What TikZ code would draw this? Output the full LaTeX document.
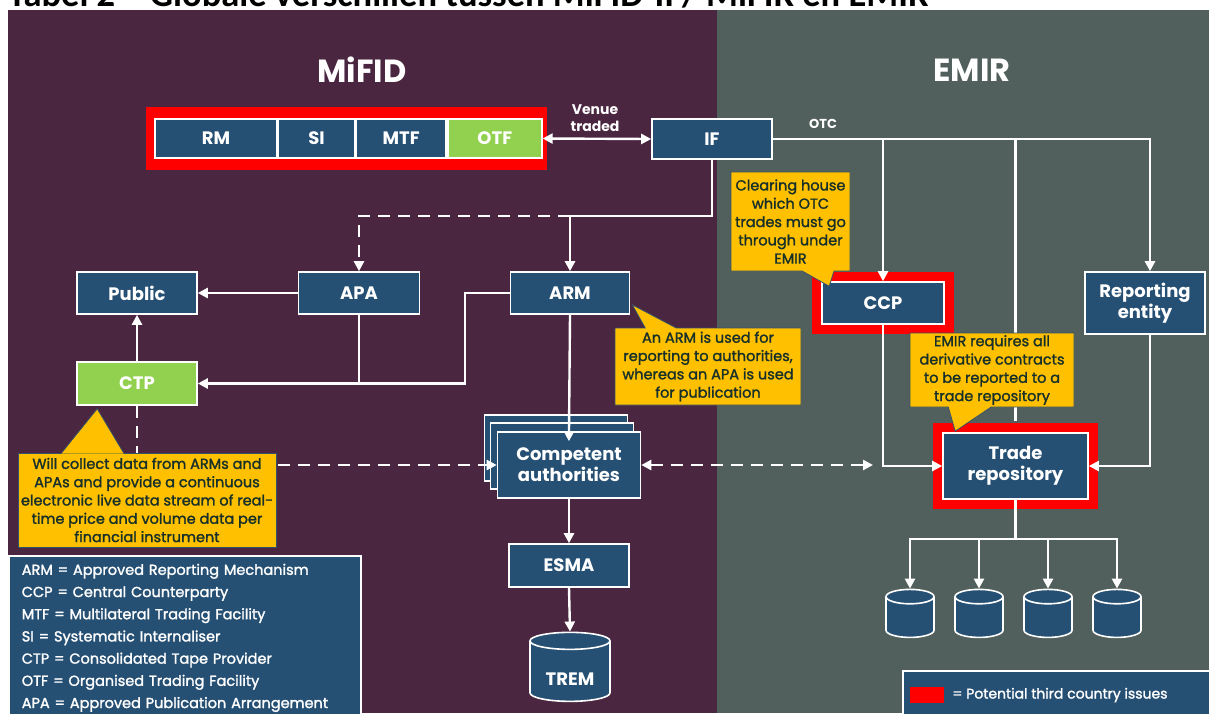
\documentclass[tikz,border=0pt]{standalone}
\usepackage{fontspec}
\setmainfont{Poppins}
\newfontfamily\titlefont{Carlito}
\newfontfamily\notefont[FakeBold=1.6]{Poppins}
\usetikzlibrary{arrows.meta, positioning, calc, shapes.geometric, shapes.callouts}

\definecolor{mifidbg}{HTML}{4A2640}
\definecolor{emirbg}{HTML}{51605C}
\definecolor{boxblue}{HTML}{265073}
\definecolor{otfgreen}{HTML}{92D050}
\definecolor{noteyellow}{HTML}{FFC000}
\definecolor{notetext}{HTML}{18302A}
\definecolor{noteedge}{HTML}{35506A}

\begin{document}
\begin{tikzpicture}[
  x=1pt, y=-1pt,                 % one unit = one pixel of the layout
  >={Triangle[length=10pt, width=10pt]},
  box/.style={draw=white, line width=1.6pt, fill=boxblue, text=white, inner sep=0pt,
    align=center, font=\bfseries\fontsize{18}{21}\selectfont},
  thirdcountry/.style={preaction={draw=red, line width=20pt}},
  disk/.style={cylinder, shape border rotate=90, aspect=0.3, draw=white, line width=1.6pt,
    fill=boxblue, text=white, inner sep=0pt, font=\bfseries\fontsize{18}{21}\selectfont},
  note/.style={fill=noteyellow, draw=noteedge, line width=0.8pt, text=notetext, inner sep=0pt,
    align=center, font=\notefont\fontsize{14.5}{18.3}\selectfont},
  heading/.style={text=white, font=\bfseries\fontsize{32}{36}\selectfont},
  tag/.style={text=white, align=center, font=\bfseries\fontsize{14}{17}\selectfont},
  wire/.style={draw=white, line width=2.4pt},
  arrow/.style={wire, ->},
  dasharrow/.style={arrow, dash pattern=on 12pt off 8pt}
]
  \useasboundingbox (0,0) rectangle (1209,713);
  \clip (0,0) rectangle (1209,713);

  % Panels
  \fill[white] (0,0) rectangle (1209,713);
  \fill[mifidbg] (8,10) rectangle (717,713);
  \fill[emirbg] (717,10) rectangle (1209,713);
  \node[anchor=base west, inner sep=0pt, font=\titlefont\bfseries\fontsize{36.5}{38}\selectfont] (title) at (8,6)
    {Tabel 2 – Globale verschillen tussen MiFID-II / MiFIR en EMIR};
  \node[heading] (mifid) at (362,70) {MiFID};
  \node[heading] (emir) at (972,70) {EMIR};

  % Trading venues
  \fill[red] (146,107) rectangle (547,170);
  \node[box, minimum width=122pt, minimum height=39pt] (rm) at (216,138.5) {RM};
  \node[box, minimum width=76pt, minimum height=39pt, right=0pt of rm] (si) {SI};
  \node[box, minimum width=90pt, minimum height=39pt, right=0pt of si] (mtf) {MTF};
  \node[box, fill=otfgreen, minimum width=94pt, minimum height=39pt, right=0pt of mtf] (otf) {OTF};
  \node[box, minimum width=120pt, minimum height=40pt] (if) at (712,139) {IF};
  \node[tag] (venue) at (595,118) {Venue\\traded};
  \node[tag, font=\bfseries\fontsize{13}{15}\selectfont] (otc) at (823,124) {OTC};

  % MiFID reporting
  \node[box, minimum width=120pt, minimum height=42pt] (public) at (137,293) {Public};
  \node[box, minimum width=121pt, minimum height=42pt] (apa) at (359,293) {APA};
  \node[box, minimum width=119pt, minimum height=42pt] (arm) at (570,293) {ARM};
  \node[box, fill=otfgreen, minimum width=120pt, minimum height=43pt] (ctp) at (137,383.5) {CTP};
  \node[box, minimum width=143pt, minimum height=66pt] (ca3) at (556,448) {};
  \node[box, minimum width=143pt, minimum height=66pt] (ca2) at (562,456) {};
  \node[box, minimum width=143pt, minimum height=66pt] (ca) at (569,465) {Competent\\authorities};
  \node[box, minimum width=120pt, minimum height=43pt] (esma) at (569,565.5) {ESMA};
  \node[disk, aspect=0.35, text height=27pt, minimum width=80pt, minimum height=69pt] (trem) at (570,671.5) {TREM};

  % EMIR reporting
  \node[box, thirdcountry, minimum width=122pt, minimum height=42pt] (ccp) at (883,303) {CCP};
  \node[box, minimum width=120pt, minimum height=62pt] (rep) at (1145,303) {Reporting\\entity};
  \node[box, thirdcountry, minimum width=145pt, minimum height=66pt] (tr) at (1015.5,466) {Trade\\repository};
  \foreach \i/\x in {1/910, 2/979, 3/1048, 4/1117}
    \node[disk, inner xsep=24pt, minimum height=48pt] (db\i) at (\x,621) {};

  % Flows
  \draw[wire, <->] (otf.east) -- (if.west);
  \coordinate (otcrep) at (1150,139);
  \draw[arrow] (if.east) -| (ccp.north);
  \draw[arrow] (if.east) -- (otcrep) -- (otcrep |- rep.north);
  \draw[wire, shorten >=11pt] (if.east) -| (tr.north);
  \draw[arrow] (ccp.south) |- (tr.west);
  \draw[arrow] (otcrep |- rep.south) |- (tr.east);
  \coordinate (trbus) at (1015.5,539);
  \foreach \i in {1,...,4}
    \draw[arrow] (tr.south) -- (trbus) -| (db\i.north);

  \coordinate (split) at (570,216);
  \draw[wire] (if.south) |- (split);
  \draw[arrow] (split) -- (arm.north);
  \draw[dasharrow] (split) -| (apa.north);
  \draw[arrow] (apa.west) -- (public.east);
  \draw[arrow] (arm.west) -- ++(-45,0) |- (ctp.east);
  \draw[wire] (apa.south) -- (apa.south |- ctp.east);
  \draw[arrow] (ctp.north) -- (public.south);
  \draw[arrow, shorten >=-10pt] (arm.south) -- (ca.north);
  \draw[dasharrow] (ctp.south) |- (ca.west);
  \coordinate (caend) at (873,465);
  \draw[dasharrow, <->] (ca.east) -- (caend);
  \draw[arrow] (ca.south) -- (esma.north);
  \draw[arrow] (esma.south) -- (trem.north);

  % Notes
  \node[note, rectangle callout, callout absolute pointer={($(ccp.north west)+(8,5)$)},
    callout pointer width=32pt, minimum width=119pt, minimum height=99pt] (ccpnote) at (790.5,221.5)
    {Clearing house\\which OTC\\trades must go\\through under\\EMIR};
  \node[note, rectangle callout, callout absolute pointer={($(arm.south east)+(2,-10)$)},
    callout pointer width=31pt, minimum width=186pt, minimum height=77pt] (armnote) at (708,366.5)
    {An ARM is used for\\reporting to authorities,\\whereas an APA is used\\for publication};
  \node[note, rectangle callout, callout absolute pointer={($(tr.north west)+(13,-1)$)},
    callout pointer width=43pt, minimum width=164pt, minimum height=74pt] (trnote) at (992,370)
    {EMIR requires all\\derivative contracts\\to be reported to a\\trade repository};
  \node[note, minimum width=258pt, minimum height=94pt] (ctpnote) at (147,500)
    {Will collect data from ARMs and\\APAs and provide a continuous\\electronic live data stream of real-\\time price and volume data per\\financial instrument};
  \fill[noteyellow] ($(ctpnote.north west)+(44,1)$) -- ($(ctp.south west)+(21,3)$)
    -- ($(ctpnote.north west)+(106,1)$) -- cycle;
  \draw[noteedge, line width=0.8pt] ($(ctpnote.north west)+(44,0)$) -- ($(ctp.south west)+(21,3)$)
    -- ($(ctpnote.north west)+(106,0)$);

  % Legends
  \node[fill=boxblue, draw=white, line width=1.6pt, anchor=north west, text=white, align=left,
    inner xsep=13pt, inner ysep=8pt, text width=326pt, font=\notefont\fontsize{14.5}{22.2}\selectfont] (abbrev) at (8,555)
    {ARM = Approved Reporting Mechanism\\CCP = Central Counterparty\\MTF = Multilateral Trading Facility\\
     SI = Systematic Internaliser\\CTP = Consolidated Tape Provider\\OTF = Organised Trading Facility\\
     APA = Approved Publication Arrangement};
  \node[fill=boxblue, draw=white, line width=1.6pt, anchor=north west, minimum width=330pt,
    minimum height=60pt] (keybox) at (902,670) {};
  \node[fill=red, minimum width=34pt, minimum height=16pt, inner sep=0pt] (redkey) at (927,695) {};
  \node[right=8pt of redkey, text=white, inner sep=0pt, font=\notefont\fontsize{14}{16}\selectfont] (keytext)
    {= Potential third country issues};
\end{tikzpicture}
\end{document}
